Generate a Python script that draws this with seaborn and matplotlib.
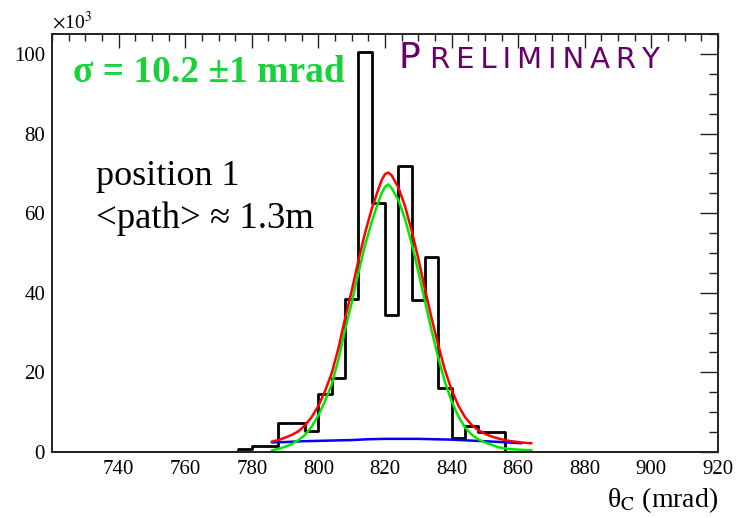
import numpy as np
import pandas as pd
import matplotlib
matplotlib.use("Agg")
import matplotlib.pyplot as plt
import seaborn as sns
from matplotlib.ticker import MultipleLocator

# ---------------- data (counts in units of 10^3) ----------------
bin_width = 4
bin_left = [776, 780, 784, 788, 792, 796, 800, 804, 808, 812,
            816, 820, 824, 828, 832, 836, 840, 844, 848, 852]
counts = [0.7, 1.5, 1.5, 7.3, 7.3, 5.3, 14.5, 18.5, 38.5, 100.5,
          62.5, 34.3, 71.8, 38.3, 49.1, 16.1, 3.4, 6.6, 5.0, 5.0]

fit_x = [786, 788, 790, 792, 794, 796, 798, 800, 802, 804,
         806, 808, 810, 812, 814, 816, 818, 819, 820, 821,
         822, 824, 826, 828, 830, 832, 834, 836, 838, 840,
         842, 844, 846, 848, 850, 852, 854, 856, 858, 860,
         862, 864]
total_fit = [2.6, 3.0, 3.6, 4.3, 5.2, 6.7, 8.8, 11.6, 15.3, 19.8,
             26.0, 33.5, 40.5, 48.0, 55.0, 61.0, 66.0, 68.3, 69.8, 70.2,
             69.5, 66.5, 61.8, 55.6, 48.6, 41.0, 33.6, 26.8, 20.6, 15.6,
             11.7, 8.8, 6.8, 5.5, 4.6, 3.9, 3.4, 3.0, 2.7, 2.5,
             2.3, 2.2]
signal_fit = [0.4, 0.8, 1.3, 2.0, 3.0, 4.3, 6.4, 9.2, 12.8, 17.0,
              23.2, 30.6, 37.5, 45.0, 51.9, 57.8, 62.8, 65.0, 66.6, 67.2,
              66.3, 63.3, 58.6, 52.4, 45.4, 37.9, 30.5, 23.7, 17.6, 12.8,
              9.0, 6.2, 4.4, 3.2, 2.4, 1.8, 1.2, 0.9, 0.7, 0.6,
              0.5, 0.45]
bkg_x = [786, 790, 795, 800, 805, 810, 815, 820, 825, 830,
         835, 840, 845, 850, 855, 861]
bkg_fit = [2.4, 2.5, 2.7, 2.8, 2.9, 3.0, 3.2, 3.3, 3.3, 3.3,
           3.2, 3.1, 2.9, 2.7, 2.5, 2.2]

x_ticks = [740, 760, 780, 800, 820, 840, 860, 880, 900, 920]
y_ticks = [0, 20, 40, 60, 80, 100]

# ---------------- style ----------------
sns.set_theme(style="white")
plt.rcParams["font.family"] = ["Liberation Serif", "DejaVu Serif"]
plt.rcParams["mathtext.fontset"] = "stix"
plt.rcParams["text.color"] = "black"

W, H = 738, 518
fig = plt.figure(figsize=(W / 100, H / 100), dpi=100)
ax = fig.add_axes([52 / W, 1 - 452 / H, (718 - 52) / W, (452 - 34) / H])

hist_df = pd.DataFrame({"theta": [b + bin_width / 2 for b in bin_left],
                        "w": counts})
sns.histplot(data=hist_df, x="theta", weights="w", binwidth=bin_width,
             binrange=(720, 920), element="step", fill=False,
             color="black", linewidth=2.0, ax=ax)

sns.lineplot(x=bkg_x, y=bkg_fit, color="#0000ff", linewidth=1.8, ax=ax)
sns.lineplot(x=fit_x, y=signal_fit, color="#00e800", linewidth=1.8, ax=ax)
sns.lineplot(x=fit_x, y=total_fit, color="#ff0000", linewidth=1.8, ax=ax)

ax.set_xlim(720, 920)
ax.set_ylim(0, 105)
ax.set_xlabel("")
ax.set_ylabel("")
ax.set_xticks(x_ticks)
ax.set_yticks(y_ticks)
ax.xaxis.set_minor_locator(MultipleLocator(5))
ax.yaxis.set_minor_locator(MultipleLocator(5))
ax.tick_params(axis="both", which="both", direction="in",
               top=True, right=True, colors="#222222", labelcolor="black",
               labelsize=15)
ax.tick_params(axis="x", which="major", length=10, width=1.0, pad=6)
ax.tick_params(axis="x", which="minor", length=5, width=1.0)
ax.tick_params(axis="y", which="major", length=13, width=1.0, pad=5)
ax.tick_params(axis="y", which="minor", length=6.5, width=1.0)
for s in ax.spines.values():
    s.set_color("#222222")
    s.set_linewidth(1.4)

# ---------------- texts ----------------
fig.text(52 / W, 1 - 29 / H, r"$\times$10$^{3}$", fontsize=14,
         color="black", ha="left", va="baseline")
fig.text(718 / W, 1 - 507 / H, r"θ$_{\mathrm{C}}$ (mrad)",
         fontsize=20, color="black", ha="right", va="baseline")
fig.text(73 / W, 1 - 82 / H, "σ = 10.2 ±1 mrad", fontsize=27,
         fontweight="bold", color="#18d23a", ha="left", va="baseline")
fig.text(398 / W, 1 - 68 / H, "P", fontsize=26, color="#660066",
         family=["DejaVu Sans"], ha="left", va="baseline")
fig.text(430 / W, 1 - 68 / H, "R\u2009E\u2009L\u2009I\u2009M\u2009I\u2009N\u2009A\u2009R\u2009Y",
         fontsize=21, color="#660066", family=["DejaVu Sans"],
         ha="left", va="baseline")
fig.text(96 / W, 1 - 185 / H, "position 1", fontsize=26,
         color="black", ha="left", va="baseline")
fig.text(96 / W, 1 - 228 / H, "<path> \u2248 1.3m", fontsize=26.5,
         color="black", ha="left", va="baseline")

fig.savefig("out.png", dpi=100)
